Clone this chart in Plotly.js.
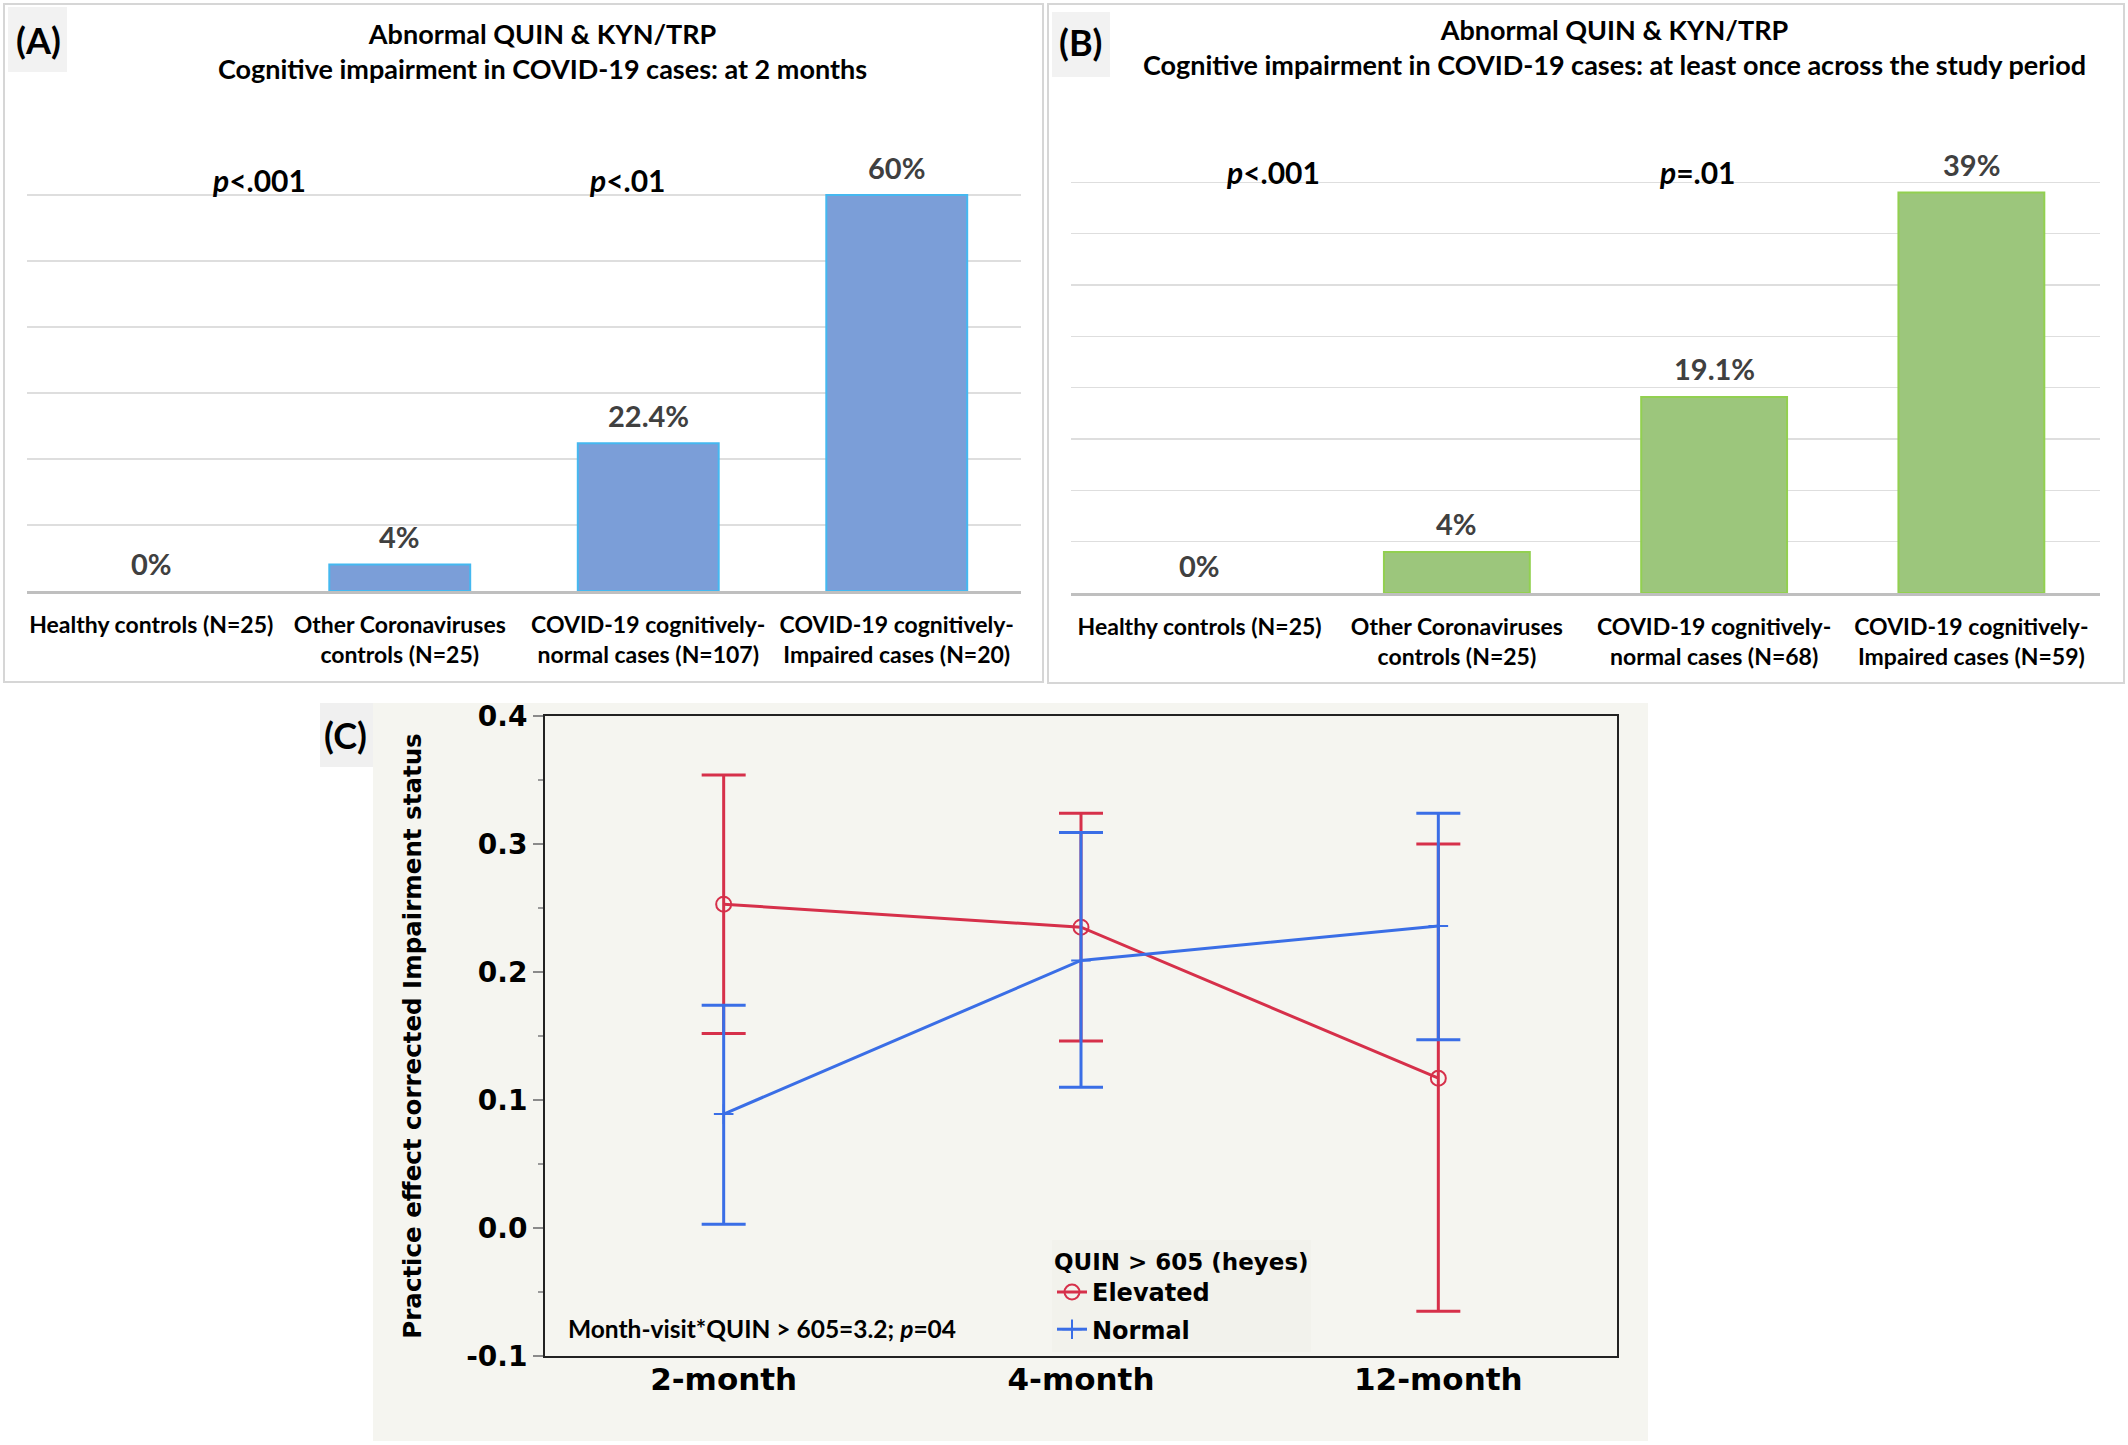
<!DOCTYPE html>
<html>
<head>
<meta charset="utf-8">
<script src="https://cdn.plot.ly/plotly-3.0.1.min.js"></script>
<style>html,body{margin:0;padding:0;background:#fff;}#chart{width:2128px;height:1445px;}</style>
</head>
<body>
<div id="chart"></div>
<script>
// ---------- Data ----------
const catsA = ['Healthy controls (N=25)', 'Other Coronaviruses<br>controls (N=25)', 'COVID-19 cognitively-<br>normal cases (N=107)', 'COVID-19 cognitively-<br>Impaired cases (N=20)'];
const valsA = [0, 4, 22.4, 60];
const catsB = ['Healthy controls (N=25)', 'Other Coronaviruses<br>controls (N=25)', 'COVID-19 cognitively-<br>normal cases (N=68)', 'COVID-19 cognitively-<br>Impaired cases (N=59)'];
const valsB = [0, 4, 19.1, 39];
const titleA = 'Abnormal QUIN & KYN/TRP<br>Cognitive impairment in COVID-19 cases: at 2 months';
const titleB = 'Abnormal QUIN & KYN/TRP<br>Cognitive impairment in COVID-19 cases: at least once across the study period';
const pTextA = ['<i>p</i><.001', '<i>p</i><.01'];
const pTextB = ['<i>p</i><.001', '<i>p</i>=.01'];

const months = ['2-month', '4-month', '12-month'];
const elevMean = [0.253, 0.235, 0.117];
const elevUpper = [0.354, 0.324, 0.300];
const elevLower = [0.152, 0.146, -0.065];
const normMean = [0.089, 0.209, 0.236];
const normUpper = [0.174, 0.309, 0.324];
const normLower = [0.003, 0.110, 0.147];
const yTicksC = [-0.1, 0.0, 0.1, 0.2, 0.3, 0.4];
const legendTitle = 'QUIN > 605 (heyes)';
const statText = 'Month-visit*QUIN > 605=3.2; <i>p</i>=04';

// ---------- Helpers ----------
const W = 2128, H = 1445;
const px = x => x / W;
const py = y => 1 - y / H;

const calib = 'Lato, "Open Sans", sans-serif';
const wide = '"DejaVu Sans", sans-serif';
const red = '#d6304a', blue = '#3a6ee6';

const traces = [
  {type: 'bar', x: catsA, y: valsA, xaxis: 'x', yaxis: 'y', showlegend: false,
   marker: {color: '#7b9ed8', line: {color: '#45b8f0', width: valsA.map(v => v > 0 ? 2 : 0)}}, hoverinfo: 'skip'},
  {type: 'bar', x: catsB, y: valsB, xaxis: 'x2', yaxis: 'y2', showlegend: false,
   marker: {color: '#9cc67c', line: {color: '#92d050', width: valsB.map(v => v > 0 ? 2 : 0)}}, hoverinfo: 'skip'},
  {type: 'scatter', mode: 'lines+markers', name: 'Elevated', legendgroup: 'e', x: months, y: elevMean, xaxis: 'x3', yaxis: 'y3',
   line: {color: red, width: 3},
   marker: {symbol: 'circle-open', size: 15, color: red, line: {width: 2, color: red}},
   error_y: {type: 'data', symmetric: false,
     array: elevUpper.map((u, i) => u - elevMean[i]),
     arrayminus: elevLower.map((l, i) => elevMean[i] - l),
     color: red, thickness: 3, width: 22}},
  {type: 'scatter', mode: 'lines+markers', name: 'Normal', legendgroup: 'n', x: months, y: normMean, xaxis: 'x3', yaxis: 'y3',
   line: {color: blue, width: 3},
   marker: {symbol: 'cross-thin-open', size: 14, color: blue, line: {width: 2, color: blue}},
   error_y: {type: 'data', symmetric: false,
     array: normUpper.map((u, i) => u - normMean[i]),
     arrayminus: normLower.map((l, i) => normMean[i] - l),
     color: blue, thickness: 3, width: 22}}
];

const annotations = [];
const labFont = {family: calib, size: 29, color: '#404040', weight: 'bold'};
const pFont = {family: calib, size: 30, color: '#000', weight: 'bold'};
valsA.forEach((v, i) => annotations.push({xref: 'x', yref: 'y', x: catsA[i], y: v, text: v + '%', showarrow: false,
  xanchor: 'center', yanchor: 'middle', yshift: 28, font: labFont}));
valsB.forEach((v, i) => annotations.push({xref: 'x2', yref: 'y2', x: catsB[i], y: v, text: v + '%', showarrow: false,
  xanchor: 'center', yanchor: 'middle', yshift: 28, font: labFont}));
annotations.push({xref: 'x', yref: 'y', x: 0.435, y: 62.3, text: pTextA[0], showarrow: false, xanchor: 'center', yanchor: 'middle', font: pFont});
annotations.push({xref: 'x', yref: 'y', x: 1.915, y: 62.3, text: pTextA[1], showarrow: false, xanchor: 'center', yanchor: 'middle', font: pFont});
annotations.push({xref: 'x2', yref: 'y2', x: 0.285, y: 41.0, text: pTextB[0], showarrow: false, xanchor: 'center', yanchor: 'middle', font: pFont});
annotations.push({xref: 'x2', yref: 'y2', x: 1.937, y: 41.0, text: pTextB[1], showarrow: false, xanchor: 'center', yanchor: 'middle', font: pFont});
const tFont = {family: calib, size: 27, color: '#000', weight: 'bold'};
annotations.push({xref: 'paper', yref: 'paper', x: px(542), y: py(51), text: titleA, showarrow: false, align: 'center',
  xanchor: 'center', yanchor: 'middle', font: tFont});
annotations.push({xref: 'paper', yref: 'paper', x: px(1614), y: py(47), text: titleB, showarrow: false, align: 'center',
  xanchor: 'center', yanchor: 'middle', font: tFont});
const letFont = {family: calib, size: 36, color: '#000', weight: 'bold'};
annotations.push({xref: 'paper', yref: 'paper', x: px(38), y: py(40), text: '(A)', showarrow: false, xanchor: 'center', yanchor: 'middle', font: letFont});
annotations.push({xref: 'paper', yref: 'paper', x: px(1080), y: py(42), text: '(B)', showarrow: false, xanchor: 'center', yanchor: 'middle', font: letFont});
annotations.push({xref: 'paper', yref: 'paper', x: px(345), y: py(735), text: '(C)', showarrow: false, xanchor: 'center', yanchor: 'middle', font: letFont});
annotations.push({xref: 'paper', yref: 'paper', x: px(566), y: py(1328), xanchor: 'left', yanchor: 'middle', text: statText, showarrow: false,
  font: {family: calib, size: 24.5, color: '#000', weight: 'bold'}});

const shapes = [
  {type: 'rect', xref: 'paper', yref: 'paper', x0: px(4), x1: px(1043), y0: py(682), y1: py(4), line: {color: '#d6d6d6', width: 2}, layer: 'below'},
  {type: 'rect', xref: 'paper', yref: 'paper', x0: px(1048), x1: px(2124), y0: py(683), y1: py(4), line: {color: '#d6d6d6', width: 2}, layer: 'below'},
  {type: 'rect', xref: 'paper', yref: 'paper', x0: px(8), x1: px(67), y0: py(72), y1: py(7), fillcolor: '#f2f2f2', line: {width: 0}, layer: 'below'},
  {type: 'rect', xref: 'paper', yref: 'paper', x0: px(1052), x1: px(1110), y0: py(77), y1: py(12), fillcolor: '#f2f2f2', line: {width: 0}, layer: 'below'},
  {type: 'rect', xref: 'paper', yref: 'paper', x0: px(373), x1: px(1648), y0: py(1441), y1: py(703), fillcolor: '#f5f5f0', line: {width: 0}, layer: 'below'},
  {type: 'rect', xref: 'paper', yref: 'paper', x0: px(320), x1: px(373), y0: py(767), y1: py(703), fillcolor: '#f0f0f0', line: {width: 0}, layer: 'below'}
];

const barX = (dom) => ({domain: dom, type: 'category', showline: true, linecolor: '#bfbfbf', linewidth: 2.5,
  ticks: '', showgrid: false, zeroline: false, fixedrange: true, ticklabelstandoff: 12,
  tickfont: {family: calib, size: 23, color: '#000', weight: 'bold'}});
const barY = (dom, range, vals) => ({domain: dom, range: range, tickvals: vals, showticklabels: false, ticks: '',
  showline: false, zeroline: false, showgrid: true, gridcolor: '#dedede', gridwidth: 1.5, fixedrange: true});

const layout = {
  width: W, height: H,
  margin: {l: 0, r: 0, t: 0, b: 0},
  paper_bgcolor: '#ffffff', plot_bgcolor: '#ffffff',
  bargap: 0.433,
  showlegend: true,
  xaxis: barX([px(27), px(1021)]),
  yaxis: barY([py(591), py(129)], [0, 70], [10, 20, 30, 40, 50, 60]),
  xaxis2: Object.assign(barX([px(1071), px(2100)]), {anchor: 'y2'}),
  yaxis2: Object.assign(barY([py(593), py(131)], [0, 45], [5, 10, 15, 20, 25, 30, 35, 40, 45]), {anchor: 'x2'}),
  xaxis3: {domain: [px(545), px(1617)], anchor: 'y3', type: 'category', range: [-0.5, 2.5],
    showline: true, mirror: true, linecolor: '#222', linewidth: 2, ticks: '', showgrid: false, zeroline: false,
    ticklabelstandoff: -5,
    tickfont: {family: wide, size: 31, color: '#000', weight: 'bold'}},
  yaxis3: {domain: [py(1356), py(716)], anchor: 'x3', range: [-0.1, 0.4], tickvals: yTicksC, ticktext: yTicksC.map(v => v.toFixed(1)),
    showline: true, mirror: true, linecolor: '#222', linewidth: 2, ticks: 'outside', ticklen: 10, tickwidth: 2, tickcolor: '#8a8a8a',
    minor: {dtick: 0.05, ticks: 'outside', ticklen: 5, tickwidth: 2, tickcolor: '#9a9a9a', showgrid: false},
    showgrid: false, zeroline: false,
    tickfont: {family: wide, size: 28, color: '#000', weight: 'bold'},
    title: {text: 'Practice effect corrected Impairment status', standoff: 38,
      font: {family: wide, size: 24.5, color: '#000', weight: 'bold'}}},
  legend: {x: px(1052), y: py(1240), xanchor: 'left', yanchor: 'top', bgcolor: '#f2f2ec', borderwidth: 0,
    tracegroupgap: 3,
    title: {text: legendTitle, font: {family: wide, size: 23, color: '#000', weight: 'bold'}},
    font: {family: wide, size: 24, color: '#000', weight: 'bold'}, itemwidth: 30},
  annotations: annotations,
  shapes: shapes
};

Plotly.newPlot('chart', traces, layout, {staticPlot: true, displayModeBar: false});
</script>
</body>
</html>
